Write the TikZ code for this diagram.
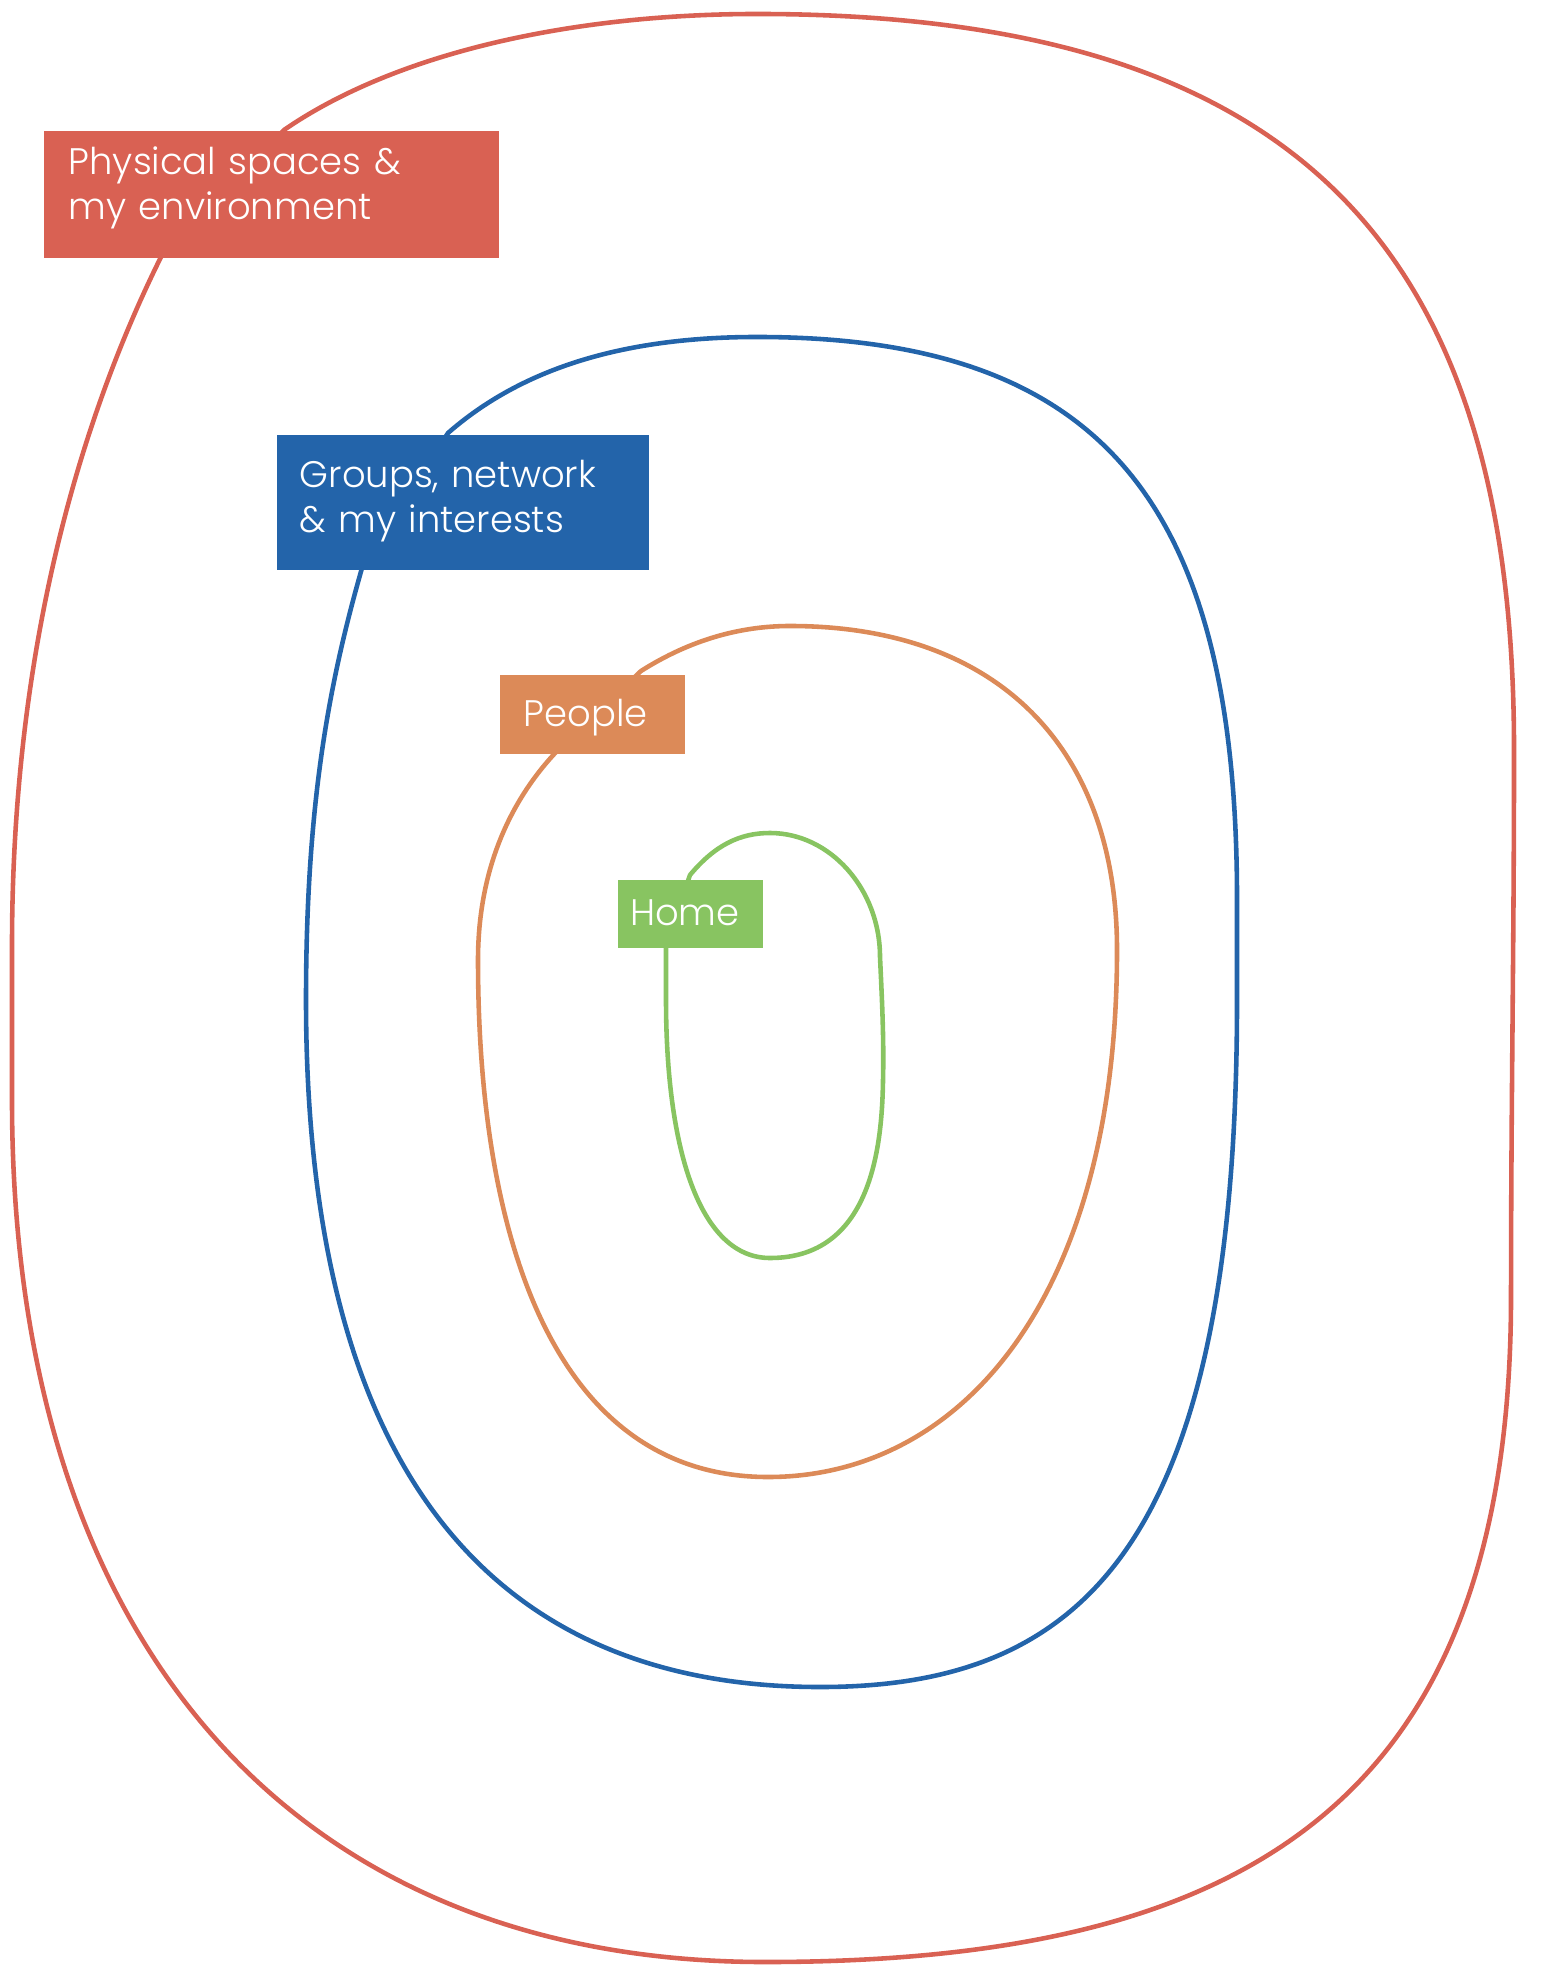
\documentclass[tikz,border=0pt]{standalone}
\usepackage{fontspec}
\setmainfont{Poppins Light}
\usepackage{tikz}
\usetikzlibrary{positioning, backgrounds}
\usepackage{xcolor}
\definecolor{physred}{HTML}{D96153}
\definecolor{groupblue}{HTML}{2364AA}
\definecolor{peopleorange}{HTML}{DC8A58}
\definecolor{homegreen}{HTML}{88C461}
\tikzstyle{areabox} = [
rectangle,
anchor=north west,
inner ysep=0pt,
align=left,
text=white,
font=\fontsize{10.5}{12.8}\selectfont
]
\tikzstyle{ring} = [
line width=1.3pt
]

\begin{document}
\begin{tikzpicture}[x=0.01cm, y=-0.01cm]
        \useasboundingbox (0,0) rectangle (1559,1977);
        
        \node (physical) [areabox, fill=physred, inner xsep=2.5mm, text width=40.5mm,
        text height=4.4mm, text depth=8.3mm] at (43,130)
        {Physical spaces \&\\my environment};
        
        \node (groups) [areabox, fill=groupblue, inner xsep=2.3mm, text width=32.6mm,
        text height=5.2mm, text depth=8.3mm, below right=17.6mm and 23.3mm of physical.south west]
        {Groups, network\\\& my interests};
        
        \node (people) [areabox, fill=peopleorange, inner xsep=2.4mm, text width=13.7mm,
        text height=5.2mm, text depth=2.7mm, below right=10.3mm and 22.3mm of groups.south west]
        {People};
        
        \node (home) [areabox, fill=homegreen, inner xsep=1.2mm, text width=12.1mm,
        text height=4.5mm, text depth=2.3mm, below right=12.5mm and 11.8mm of people.south west]
        {Home};
        
        \begin{scope}[on background layer]
        % outer ring, hidden part runs under the label
        \draw [ring, physred] (757,14)
        .. controls (1300,14) and (1514,250) .. (1514,750)
        .. controls (1514,950) and (1511,1100) .. (1511,1296)
        .. controls (1511,1800) and (1250,1962) .. (765,1962)
        .. controls (300,1962) and (12,1650) .. (12,1100)
        -- (12,946)
        .. controls (12,650) and (80,420) .. (161,257)
        -- (284,130)
        .. controls (400,50) and (580,14) .. cycle;
        
        \draw [ring, groupblue] (757,337)
        .. controls (1100,337) and (1237,500) .. (1237,900)
        -- (1237,1000)
        .. controls (1237,1550) and (1080,1687) .. (820,1687)
        .. controls (550,1687) and (306,1540) .. (306,1000)
        .. controls (306,800) and (330,680) .. (362,568)
        -- (448,433)
        .. controls (520,370) and (620,337) .. cycle;
        
        \draw [ring, peopleorange] (790,626)
        .. controls (1000,626) and (1117,750) .. (1117,950)
        .. controls (1117,1300) and (960,1477) .. (768,1477)
        .. controls (560,1477) and (478,1250) .. (478,960)
        .. controls (478,870) and (510,800) .. (558,750)
        -- (641,671)
        .. controls (690,640) and (740,626) .. cycle;
        
        \draw [ring, homegreen] (770,833)
        .. controls (830,833) and (880,889) .. (880,957)
        .. controls (882,1000) and (884,1040) .. (883,1080)
        .. controls (882,1150) and (870,1258) .. (770,1258)
        .. controls (700,1258) and (666,1150) .. (666,1000)
        -- (666,943) -- (690,875)
        .. controls (715,845) and (740,833) .. cycle;
        \end{scope}
        
\end{tikzpicture}
\end{document}
